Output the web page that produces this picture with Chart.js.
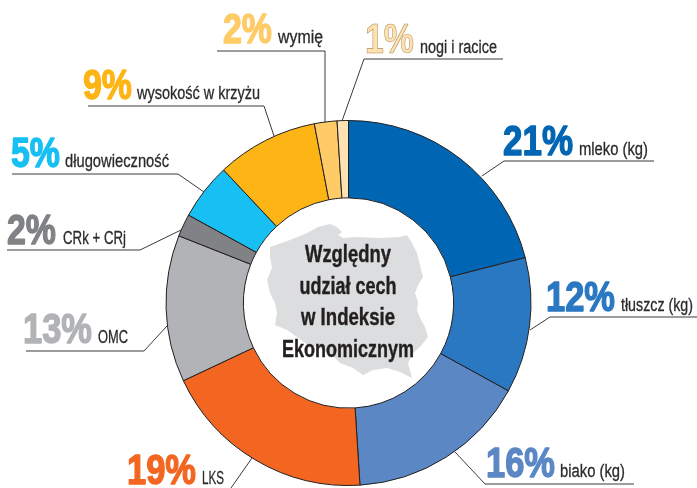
<!DOCTYPE html>
<html lang="pl">
<head>
<meta charset="utf-8">
<title>Względny udział cech w Indeksie Ekonomicznym</title>
<script src="https://cdn.jsdelivr.net/npm/chart.js@4"></script>
<style>
    html, body { margin: 0; padding: 0; background: #fff; }
    canvas { display: block; }
</style>
</head>
<body>
<canvas id="ie_chart" width="697" height="488"></canvas>
<script>
// dane
const categories = ['mleko (kg)', 'tłuszcz (kg)', 'biako (kg)', 'LKS', 'OMC', 'CRk + CRj', 'długowieczność', 'wysokość w krzyżu', 'wymię', 'nogi i racice'];
const shares = [21, 12, 16, 19, 13, 2, 5, 9, 2, 1];
const sliceColors = ['#0066b3', '#2b78c2', '#5b87c5', '#f36621', '#b1b3b6', '#808285', '#17bff2', '#fdb515', '#fecb66', '#fee2b2'];
const centerLines = ['Względny', 'udział cech', 'w Indeksie', 'Ekonomicznym'];
const centerWidths = [86, 97, 94, 132];

// opisy: x procentu, x nazwy, linia bazowa, szerokosc procentu, szerokosc nazwy
const calloutText = [
    [503, 579, 155, 70, 69],
    [546, 621, 311, 69, 72],
    [486, 560, 477, 69, 65],
    [127, 202, 484, 69, 22],
    [23, 98, 343, 69, 30],
    [7, 63, 244, 49, 63],
    [11, 65, 167, 49, 104],
    [83, 137, 99, 49, 123],
    [223, 278, 43, 49, 45],
    [365, 420, 53, 49, 77]
];
const calloutLines = [
    [[482, 176], [504, 161], [654, 161]],
    [[530, 330], [550, 317], [697, 317]],
    [[455, 452], [485, 484], [634, 484]],
    [[252, 458], [231, 488]],
    [[167, 326], [144, 351], [26, 351]],
    [[181, 230], [140, 250], [7, 250]],
    [[204, 192], [178, 174], [12, 174]],
    [[274, 136], [264, 106], [88, 106]],
    [[325, 123], [325, 51], [217, 51]],
    [[342, 121], [364, 59], [503, 59]]
];
// kontur Polski pod tytulem
const polandShape = [[270, 247], [290, 240], [307, 233], [318, 227], [330, 224], [337, 227], [342, 232], [338, 235], [343, 238], [357, 237], [377, 238], [400, 237], [407, 235], [412, 243], [417, 253], [420, 265], [423, 277], [418, 285], [415, 293], [418, 302], [417, 310], [420, 318], [425, 327], [428, 337], [420, 347], [413, 353], [408, 363], [412, 378], [400, 372], [387, 368], [373, 370], [363, 375], [353, 368], [340, 363], [335, 358], [330, 355], [320, 348], [308, 345], [297, 337], [287, 330], [275, 325], [277, 313], [275, 303], [270, 293], [267, 280], [272, 268], [270, 257]];

const font = '"Liberation Sans", Arial, sans-serif';

const infographic = {
    id: 'infographic',
    afterDraw(chart) {
        const ctx = chart.ctx;
        ctx.save();
        ctx.lineJoin = 'round';

        // mapa
        ctx.fillStyle = '#dcddde';
        ctx.beginPath();
        polandShape.forEach((p, i) => i ? ctx.lineTo(p[0], p[1]) : ctx.moveTo(p[0], p[1]));
        ctx.closePath();
        ctx.fill();

        // tytul w srodku
        ctx.fillStyle = '#231f20';
        ctx.strokeStyle = '#231f20';
        ctx.lineWidth = 0.4;
        ctx.font = 'bold 23px ' + font;
        ctx.textAlign = 'center';
        centerLines.forEach((t, i) => {
            ctx.fillText(t, 348, 262 + i * 31.7, centerWidths[i]);
            ctx.strokeText(t, 348, 262 + i * 31.7, centerWidths[i]);
        });

        // linie
        ctx.strokeStyle = '#3a3a3c';
        ctx.lineWidth = 1;
        calloutLines.forEach(line => {
            ctx.beginPath();
            line.forEach((p, i) => i ? ctx.lineTo(p[0], p[1]) : ctx.moveTo(p[0], p[1]));
            ctx.stroke();
        });

        // procenty i nazwy
        ctx.textAlign = 'left';
        categories.forEach((name, i) => {
            const c = calloutText[i];
            const pct = shares[i] + '%';
            ctx.font = 'bold 42px ' + font;
            ctx.fillStyle = sliceColors[i];
            ctx.strokeStyle = i === 9 ? '#b08d57' : sliceColors[i];
            ctx.lineWidth = i === 9 ? 0.6 : 1.4;
            ctx.fillText(pct, c[0], c[2], c[3]);
            ctx.strokeText(pct, c[0], c[2], c[3]);
            ctx.font = '18px ' + font;
            ctx.fillStyle = '#2b2b2d';
            ctx.strokeStyle = '#2b2b2d';
            ctx.lineWidth = 0.3;
            ctx.fillText(name, c[1], c[2], c[4]);
            ctx.strokeText(name, c[1], c[2], c[4]);
        });
        ctx.restore();
    }
};

new Chart(document.getElementById('ie_chart'), {
    type: 'doughnut',
    data: {
        labels: categories,
        datasets: [{
            data: shares,
            backgroundColor: sliceColors,
            borderColor: '#231f20',
            borderWidth: 1,
            hoverOffset: 0,
            radius: 182.5,
            cutout: '57.6%'
        }]
    },
    options: {
        responsive: false,
        animation: false,
        layout: { padding: { top: 118 } },
        plugins: {
            legend: { display: false },
            title: { display: false },
            tooltip: { enabled: false }
        }
    },
    plugins: [infographic]
});
</script>
</body>
</html>
